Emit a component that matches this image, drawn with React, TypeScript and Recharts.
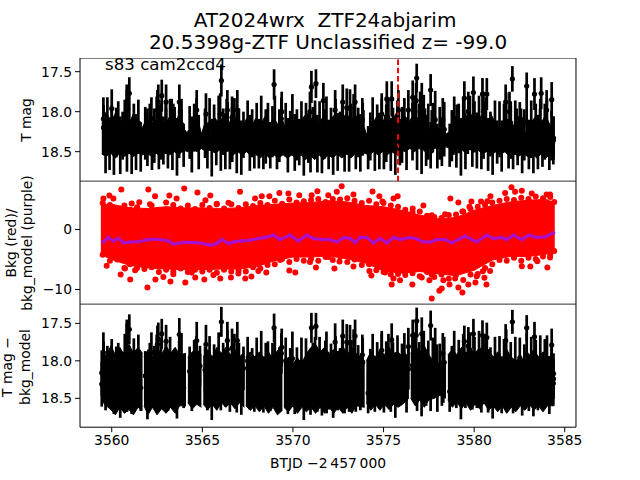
import React from "react";
import { ComposedChart, Area, Line, Scatter, ErrorBar, XAxis, YAxis, ReferenceArea, ReferenceLine } from "recharts";

const FONT = "'DejaVu Sans', sans-serif";
const xDomain = [3558.25, 3585.62];
const xTicks = [3560, 3565, 3570, 3575, 3580, 3585];
const topDomain = [17.329, 18.869];
const midDomain = [-12.45, 8.08];
const bottomDomain = [17.242, 18.885];
const magTicks = [17.5, 18, 18.5];
const midTicks = [-10, 0];
const eventTime = 3575.8;

const barTimes = [
  3559.55,3559.66,3559.76,3559.88,3560.0,3560.12,3560.25,3560.36,3560.47,3560.6,3560.72,3560.84,3560.97,3561.1,3561.22,
  3561.34,3561.47,3561.6,3561.85,3561.97,3562.1,3562.22,3562.35,3562.48,3562.6,3562.72,3562.85,3562.98,3563.1,3563.22,
  3563.35,3563.47,3563.6,3563.72,3563.85,3563.97,3564.3,3564.42,3564.55,3564.68,3564.8,3565.15,3565.28,3565.4,3565.52,
  3565.65,3565.77,3565.9,3566.02,3566.15,3566.27,3566.4,3566.52,3566.65,3566.77,3566.9,3567.02,3567.15,3567.27,3567.5,
  3567.62,3567.75,3567.87,3568.0,3568.12,3568.25,3568.37,3568.5,3568.62,3568.75,3568.87,3569.0,3569.12,3569.25,3569.6,
  3569.72,3569.85,3569.97,3570.1,3570.22,3570.35,3570.47,3570.6,3570.72,3570.85,3570.97,3571.1,3571.22,3571.35,3571.47,
  3571.6,3571.72,3571.85,3571.97,3572.1,3572.22,3572.35,3572.47,3572.6,3572.72,3572.85,3572.97,3573.1,3573.22,3573.35,
  3573.47,3573.6,3573.72,3573.85,3574.15,3574.27,3574.4,3574.52,3574.65,3574.77,3574.9,3575.02,3575.15,3575.27,3575.4,
  3575.52,3575.65,3575.77,3575.9,3576.02,3576.15,3576.27,3576.6,3576.72,3576.85,3576.97,3577.1,3577.22,3577.35,3577.47,
  3577.6,3577.72,3577.85,3577.97,3578.1,3578.22,3578.35,3578.65,3578.77,3578.9,3579.02,3579.15,3579.27,3579.4,3579.52,
  3579.65,3579.77,3579.9,3580.02,3580.15,3580.27,3580.4,3580.52,3580.65,3580.77,3580.9,3581.02,3581.15,3581.27,3581.4,
  3581.52,3581.65,3581.77,3581.9,3582.02,3582.15,3582.27,3582.4,3582.52,3582.65,3582.77,3582.9,3583.02,3583.15,3583.27,
  3583.4,3583.52,3583.65,3583.77,3583.9,3584.02,3584.15,3584.27,3584.37,
];

const barErrors = [
  .28,.34,.3,.33,.27,.35,.31,.29,.36,.3,.32,.34,.28,.33,.3,
  .35,.29,.31,.33,.36,.28,.3,.34,.32,.27,.35,.3,.33,.29,.31,
  .34,.28,.36,.3,.32,.27,.33,.35,.3,.29,.34,.31,.28,.33,.36,
  .3,.27,.34,.32,.29,.35,.31,.28,.33,.3,.36,.27,.34,.29,.32,
  .35,.3,.28,.33,.31,.36,.27,.34,.3,.29,.32,.35,.28,.33,.31,
  .34,.27,.36,.3,.32,.29,.33,.35,.28,.31,.34,.3,.27,.36,.32,
  .33,.29,.35,.31,.28,.34,.3,.36,.27,.33,.32,.29,.35,.3,.34,
  .28,.31,.36,.33,.27,.3,.34,.32,.29,.35,.31,.28,.36,.3,.33,
  .27,.34,.32,.29,.35,.3,.31,.36,.28,.33,.27,.34,.3,.32,.35,
  .29,.31,.36,.28,.33,.3,.34,.27,.32,.35,.29,.31,.36,.3,.33,
  .28,.34,.27,.32,.35,.3,.29,.36,.31,.33,.28,.34,.3,.27,.35,
  .32,.29,.36,.31,.33,.28,.34,.3,.27,.35,.32,.29,.31,.36,.33,
  .28,.34,.3,.27,.35,.32,.29,.31,.3,
];

const topMags = [
  18.2,18.43,18.12,18.4,18.19,18.44,18.26,18.16,18.42,18.3,18.17,18.41,18.24,18.45,18.2,
  18.38,18.14,18.44,18.27,18.32,18.18,18.43,18.3,18.13,18.45,18.25,18.36,18.2,18.42,18.15,
  18.39,18.22,18.44,18.28,18.16,18.42,18.26,18.41,18.2,18.12,18.38,18.27,18.43,18.16,18.45,
  18.21,18.4,18.14,18.42,18.25,18.37,18.19,18.44,18.3,18.13,18.41,18.23,18.45,18.29,18.18,
  18.39,18.27,18.43,18.22,18.4,18.16,18.45,18.31,18.19,18.42,18.25,18.15,18.44,18.3,18.2,
  18.42,18.26,18.14,18.44,18.29,18.38,18.2,18.45,18.17,18.33,18.42,18.24,18.13,18.4,18.19,
  18.44,18.3,18.16,18.41,18.23,18.45,18.14,18.38,18.27,18.18,18.43,18.25,18.4,18.2,18.12,
  18.44,18.26,18.39,18.22,18.45,18.31,18.16,18.42,18.2,18.37,18.15,18.44,18.27,18.13,18.41,
  18.22,18.45,18.18,18.38,18.29,18.13,18.42,18.25,18.11,18.4,18.17,18.44,18.09,18.36,18.25,
  18.42,18.2,18.1,18.43,18.27,18.38,18.22,18.42,18.3,18.16,18.41,18.21,18.44,18.12,18.39,
  18.25,18.14,18.42,18.19,18.36,18.1,18.43,18.23,18.13,18.41,18.28,18.45,18.16,18.38,18.22,
  18.43,18.19,18.12,18.4,18.26,18.44,18.2,18.37,18.15,18.42,18.29,18.13,18.41,18.22,18.44,
  18.18,18.38,18.14,18.42,18.25,18.16,18.44,18.3,18.36,
];

const bottomMags = [
  18.02,18.32,18.1,18.24,17.98,18.36,18.12,18.05,18.4,18.18,17.96,18.34,18.08,18.38,18.0,
  18.28,17.94,18.36,18.2,18.42,18.04,18.3,18.14,17.97,18.4,18.06,18.33,18.1,18.38,17.99,
  18.3,18.12,18.41,18.03,17.95,18.36,18.14,18.32,18.02,17.96,18.25,18.12,18.38,18.0,18.43,
  18.08,18.3,17.96,18.34,18.05,18.26,18.0,18.4,18.12,17.94,18.33,18.03,18.38,18.1,18.0,
  18.3,18.13,18.4,18.02,18.32,17.96,18.42,18.1,18.04,18.38,18.08,17.94,18.4,18.15,18.0,
  18.37,18.1,17.97,18.41,18.14,18.3,18.02,18.44,17.98,18.25,18.38,18.06,17.95,18.32,18.0,
  18.4,18.12,17.96,18.34,18.05,18.42,17.97,18.3,18.1,17.98,18.38,18.07,18.33,18.02,17.92,
  18.4,18.1,18.3,18.02,18.43,18.14,17.98,18.36,18.04,18.28,17.95,18.41,18.1,17.94,18.35,
  18.02,18.42,17.98,18.3,18.12,17.93,18.38,18.06,17.9,18.34,18.02,18.4,17.9,18.28,18.08,
  18.38,18.0,17.92,18.4,18.1,18.3,18.02,18.41,18.12,17.95,18.34,18.03,18.42,17.94,18.3,
  18.06,17.96,18.38,18.0,18.28,17.9,18.4,18.04,17.95,18.36,18.1,18.43,17.98,18.3,18.02,
  18.38,18.0,17.94,18.34,18.08,18.42,18.02,18.3,17.96,18.38,18.1,17.92,18.36,18.04,18.41,
  18.0,18.32,17.96,18.38,18.06,17.98,18.42,18.12,18.3,
];

const topBright = [
  [3559.54,18.09,.27],[3560.83,17.88,.22],[3560.97,17.77,.2],[3560.83,17.96,.24],[3560.0,17.96,.24],[3562.19,18.09,.27],
  [3562.52,17.98,.25],[3562.57,17.88,.22],[3562.76,17.8,.2],[3562.66,18.19,.27],[3563.0,17.88,.22],[3563.0,18.23,.27],
  [3563.31,18.11,.27],[3563.4,18.17,.27],[3563.73,17.88,.22],[3563.84,18.24,.27],[3564.69,17.98,.25],[3565.2,18.03,.26],
  [3566.05,17.61,.2],[3565.98,18.03,.26],[3566.38,17.98,.25],[3566.34,18.11,.27],[3566.64,18.07,.26],[3566.64,18.21,.27],
  [3566.93,17.98,.25],[3568.96,17.66,.19],[3569.38,18.0,.25],[3569.36,18.09,.27],[3571.02,17.69,.2],[3571.27,17.65,.18],
  [3571.68,17.86,.22],[3571.79,18.24,.27],[3570.94,18.0,.25],[3570.1,18.3,.27],[3572.33,17.98,.25],[3572.75,17.88,.22],
  [3572.97,17.95,.24],[3573.15,17.96,.24],[3573.43,17.88,.22],[3573.83,18.1,.27],[3573.89,18.25,.27],[3574.9,18.03,.26],
  [3575.09,18.31,.27],[3575.45,17.84,.22],[3575.18,17.84,.22],[3575.82,17.98,.25],[3575.82,18.23,.27],[3576.37,17.98,.25],
  [3576.61,17.82,.21],[3576.83,17.58,.18],[3576.8,17.86,.22],[3577.11,17.86,.22],[3577.02,18.0,.25],[3577.6,17.73,.2],
  [3577.29,18.23,.27],[3577.66,18.25,.27],[3578.27,18.1,.27],[3578.3,18.23,.27],[3579.04,18.18,.27],[3578.86,18.27,.27],
  [3579.46,17.83,.21],[3579.68,18.0,.25],[3579.96,17.76,.2],[3579.96,18.16,.27],[3580.46,17.78,.2],[3580.7,17.78,.2],
  [3580.51,18.0,.25],[3581.74,17.88,.22],[3581.95,18.0,.25],[3582.02,18.14,.27],[3582.11,17.59,.16],[3582.35,18.23,.27],
  [3582.59,18.23,.27],[3582.9,17.68,.17],[3583.33,17.78,.2],[3583.7,17.77,.2],[3583.64,18.23,.27],[3584.28,17.85,.22],
  [3584.38,18.33,.27],[3584.0,17.98,.25],
];

const bottomBright = [
  [3566.05,17.48,.2],[3560.97,17.58,.2],[3560.83,17.67,.22],[3560.83,17.74,.24],[3559.54,17.89,.27],[3562.76,17.64,.2],
  [3562.57,17.71,.22],[3563.0,17.74,.22],[3563.73,17.65,.22],[3562.19,17.89,.27],[3562.52,17.78,.25],[3564.69,17.73,.25],
  [3565.2,17.78,.26],[3566.38,17.73,.25],[3566.93,17.73,.25],[3566.64,17.83,.26],[3566.38,17.85,.27],[3568.96,17.56,.19],
  [3569.38,17.82,.25],[3569.36,17.9,.27],[3571.02,17.56,.2],[3571.27,17.54,.18],[3571.79,18.0,.27],[3564.87,18.07,.27],
  [3559.45,18.16,.3],[3559.45,18.31,.3],[3564.78,18.27,.27],[3571.86,18.43,.27],[3576.83,17.47,.18],[3577.6,17.53,.2],
  [3582.11,17.48,.16],[3582.9,17.56,.17],[3583.33,17.68,.2],[3584.28,17.79,.22],[3584.38,18.17,.27],[3584.38,18.24,.27],
  [3572.75,17.67,.22],[3573.43,17.67,.22],[3572.33,17.75,.25],[3572.97,17.75,.24],[3573.15,17.76,.24],[3573.83,17.92,.27],
  [3574.9,17.86,.26],[3575.45,17.72,.22],[3576.61,17.66,.21],[3577.11,17.64,.22],[3576.8,17.66,.22],[3576.37,17.81,.25],
  [3576.37,18.11,.27],[3577.94,18.05,.27],[3578.12,18.14,.27],[3578.27,17.9,.27],[3578.3,18.05,.27],[3578.3,18.29,.27],
  [3579.46,17.74,.21],[3579.68,17.8,.25],[3579.96,17.64,.2],[3580.46,17.66,.2],[3580.7,17.69,.2],[3581.74,17.73,.22],
];

const topBandRows = [
  [3559.45,18.1,18.53],[3559.7,18.0,18.56],[3559.95,18.14,18.52],[3560.2,18.02,18.58],[3560.45,18.16,18.52],[3560.7,18.06,18.56],
  [3560.95,18.16,18.52],[3561.2,18.02,18.56],[3561.45,18.1,18.52],[3561.7,18.2,18.54],[3561.95,18.06,18.52],[3562.2,18.26,18.56],
  [3562.45,18.12,18.52],[3562.7,18.04,18.56],[3562.95,18.16,18.5],[3563.2,18.06,18.54],[3563.45,18.18,18.5],[3563.7,18.04,18.54],
  [3563.95,18.2,18.48],[3564.2,18.28,18.5],[3564.45,18.3,18.46],[3564.7,18.04,18.5],[3564.95,18.28,18.46],[3565.2,18.1,18.5],
  [3565.45,18.3,18.46],[3565.7,18.08,18.52],[3565.95,18.16,18.48],[3566.2,18.02,18.52],[3566.45,18.16,18.48],[3566.7,18.04,18.54],
  [3566.95,18.14,18.5],[3567.2,18.2,18.54],[3567.45,18.08,18.5],[3567.7,18.2,18.56],[3567.95,18.08,18.52],[3568.2,18.18,18.58],
  [3568.45,18.06,18.52],[3568.7,18.16,18.58],[3568.95,18.08,18.54],[3569.2,18.18,18.58],[3569.45,18.12,18.54],[3569.7,18.3,18.58],
  [3569.95,18.14,18.54],[3570.2,18.24,18.6],[3570.45,18.1,18.54],[3570.7,18.04,18.6],[3570.95,18.14,18.54],[3571.2,18.06,18.6],
  [3571.45,18.16,18.54],[3571.7,18.04,18.6],[3571.95,18.14,18.54],[3572.2,18.06,18.58],[3572.45,18.02,18.53],[3572.7,18.1,18.58],
  [3572.95,18.02,18.52],[3573.2,18.12,18.58],[3573.45,18.04,18.52],[3573.7,18.14,18.56],[3573.95,18.26,18.52],[3574.2,18.28,18.54],
  [3574.45,18.14,18.5],[3574.7,18.02,18.54],[3574.95,18.14,18.5],[3575.2,18.0,18.54],[3575.45,18.12,18.5],[3575.7,18.02,18.54],
  [3575.95,18.16,18.48],[3576.2,18.06,18.5],[3576.45,18.12,18.46],[3576.7,18.0,18.5],[3576.95,18.14,18.46],[3577.2,18.04,18.48],
  [3577.45,18.2,18.44],[3577.7,18.26,18.48],[3577.95,18.28,18.44],[3578.2,18.12,18.46],[3578.45,18.28,18.44],[3578.7,18.24,18.46],
  [3578.95,18.06,18.46],[3579.2,18.18,18.45],[3579.45,18.0,18.5],[3579.7,18.12,18.46],[3579.95,18.0,18.5],[3580.2,18.14,18.48],
  [3580.45,18.02,18.52],[3580.7,18.12,18.5],[3580.95,18.04,18.54],[3581.2,18.16,18.5],[3581.45,18.24,18.54],[3581.7,18.06,18.5],
  [3581.95,18.16,18.56],[3582.2,18.24,18.52],[3582.45,18.06,18.56],[3582.7,18.22,18.52],[3582.95,18.3,18.56],[3583.2,18.12,18.52],
  [3583.45,18.04,18.58],[3583.7,18.14,18.53],[3583.95,18.04,18.58],[3584.2,18.18,18.53],[3584.45,18.4,18.52],
];

const bottomBandRows = [
  [3559.5,17.85,18.55],[3559.7,17.95,18.6],[3559.95,17.8,18.65],[3560.2,17.92,18.72],[3560.45,17.82,18.62],[3560.7,17.93,18.7],
  [3560.95,17.78,18.65],[3561.2,17.9,18.72],[3561.45,17.82,18.62],[3561.7,17.9,18.66],[3561.71,null,null],[3561.78,17.95,18.6],
  [3562.0,17.85,18.72],[3562.25,17.95,18.62],[3562.5,17.82,18.72],[3562.75,17.92,18.64],[3563.0,17.8,18.7],[3563.25,17.9,18.62],
  [3563.5,17.82,18.7],[3563.75,17.92,18.6],[3564.1,17.9,18.6],[3564.11,null,null],[3564.2,17.95,18.56],[3564.45,17.88,18.64],
  [3564.7,17.85,18.58],[3564.95,17.92,18.62],[3564.96,null,null],[3565.05,17.95,18.58],[3565.3,17.85,18.65],[3565.55,17.95,18.58],
  [3565.8,17.82,18.66],[3566.05,17.9,18.56],[3566.3,17.82,18.62],[3566.55,17.92,18.56],[3566.8,17.85,18.64],[3567.05,17.95,18.56],
  [3567.32,17.88,18.62],[3567.33,null,null],[3567.4,17.95,18.6],[3567.65,17.88,18.66],[3567.9,17.95,18.6],[3568.15,17.88,18.68],
  [3568.4,17.96,18.6],[3568.65,17.88,18.7],[3568.9,17.98,18.62],[3569.15,17.86,18.72],[3569.42,17.95,18.66],[3569.43,null,null],
  [3569.5,18.02,18.62],[3569.75,17.95,18.68],[3570.0,18.04,18.6],[3570.25,17.96,18.7],[3570.5,18.04,18.62],[3570.75,17.9,18.68],
  [3571.0,17.82,18.62],[3571.25,17.78,18.7],[3571.5,17.88,18.62],[3571.75,17.82,18.7],[3572.0,17.9,18.62],[3572.25,17.85,18.7],
  [3572.5,17.88,18.62],[3572.75,17.8,18.7],[3573.0,17.92,18.62],[3573.25,17.82,18.7],[3573.5,17.9,18.6],[3573.96,18.0,18.62],
  [3573.97,null,null],[3574.05,18.0,18.56],[3574.3,17.88,18.66],[3574.55,17.95,18.58],[3574.8,17.85,18.66],[3575.05,17.92,18.58],
  [3575.3,17.82,18.65],[3575.55,17.9,18.58],[3575.8,17.88,18.62],[3576.05,17.95,18.58],[3576.4,17.92,18.5],[3576.41,null,null],
  [3576.5,17.9,18.5],[3576.75,17.8,18.6],[3577.0,17.88,18.52],[3577.25,17.8,18.62],[3577.5,17.92,18.52],[3577.8,18.02,18.5],
  [3578.1,18.08,18.46],[3578.45,18.05,18.5],[3578.46,null,null],[3578.55,17.92,18.52],[3578.8,17.85,18.62],[3579.05,17.92,18.55],
  [3579.3,17.82,18.64],[3579.55,17.9,18.56],[3579.8,17.82,18.66],[3580.05,17.9,18.58],[3580.3,17.82,18.64],[3580.55,17.88,18.56],
  [3580.8,17.85,18.66],[3581.05,17.95,18.6],[3581.3,17.88,18.68],[3581.55,17.96,18.6],[3581.8,17.85,18.7],[3582.05,17.95,18.62],
  [3582.3,18.0,18.68],[3582.55,17.95,18.6],[3582.8,18.0,18.66],[3583.05,17.92,18.58],[3583.3,17.85,18.66],[3583.55,17.95,18.6],
  [3583.8,17.88,18.68],[3584.05,17.95,18.6],[3584.38,17.92,18.6],
];

const bkgBandRows = [
  [3559.4,-4.2,4.2],[3560,-5,4.2],[3561,-6,3.6],[3562,-6.4,3.5],[3563,-6.6,3.8],[3564,-6.7,3.6],[3565,-6.7,3.6],
  [3566,-6.6,3.5],[3567,-6.6,3.6],[3568,-6.2,4.0],[3569,-5.2,4.2],[3570,-4.6,4.4],[3571,-4.6,4.5],[3572,-4.4,4.8],[3573,-4.9,4.6],
  [3574,-5.6,4.0],[3575,-6.9,3.8],[3576,-7.3,3.2],[3577,-7,2.4],[3578,-7.4,1.8],[3579,-7.7,2.0],[3580,-6.8,3.2],
  [3581,-5.1,4.0],[3582,-4.5,4.6],[3583,-4.5,4.9],[3584,-4.1,5.0],[3584.45,-3.5,4.4],
];

const bkgOutliers = [
  [3560.53,6.66],[3562.02,6.66],[3564.0,6.83],[3564.73,6.16],[3565.44,5.66],[3559.54,5.16],[3559.87,5.66],[3560.09,5.16],
  [3562.39,5.55],[3563.18,5.66],[3563.58,5.16],[3565.17,4.88],[3567.08,6.27],[3566.44,4.44],[3567.91,5.16],[3568.28,5.55],
  [3568.7,5.55],[3569.25,6.1],[3569.75,6.0],[3570.35,5.72],[3571.35,6.38],[3571.03,5.72],[3571.95,5.72],[3561.1,4.33],
  [3561.52,4.55],[3562.11,4.2],[3565.79,4.2],[3572.69,7.22],[3574.39,6.33],[3574.77,5.55],[3574.94,4.66],[3575.55,5.16],
  [3575.78,5.55],[3573.34,5.83],[3572.42,6.27],[3577.2,4.0],[3576.61,3.5],[3577.66,2.38],[3578.4,2.55],[3578.69,5.16],
  [3579.13,4.5],[3579.35,3.0],[3579.85,4.66],[3579.74,3.77],[3579.9,2.5],[3580.38,4.66],[3580.73,4.72],[3580.9,5.55],
  [3581.71,6.1],[3582.06,7.05],[3582.26,6.27],[3582.63,6.44],[3583.18,6.0],[3584.0,5.83],[3584.19,5.83],
  [3561.02,-8.34],[3561.97,-9.67],[3560.49,-7.5],[3562.41,-8.34],[3562.85,-7.9],[3563.24,-8.67],[3564.06,-8.84],[3564.61,-8.0],
  [3565.11,-8.34],[3565.99,-8.17],[3566.58,-8.0],[3567.37,-8.17],[3567.71,-7.84],[3568.53,-7.17],[3569.8,-6.84],[3570.13,-7.17],
  [3571.27,-6.34],[3559.72,-6.06],[3561.29,-6.78],[3560.73,-6.5],[3563.4,-7.45],[3564.41,-7.17],[3565.61,-7.6],[3566.99,-7.34],
  [3568.09,-6.9],[3569.29,-5.1],[3570.94,-5.4],[3571.95,-4.6],[3572.29,-6.5],[3572.57,-5.34],[3573.34,-6.17],[3574.33,-7.67],
  [3574.22,-6.9],[3575.09,-7.17],[3575.45,-9.17],[3575.55,-8.17],[3575.91,-8.45],[3576.59,-9.17],[3577.11,-8.0],[3577.53,-8.45],
  [3577.66,-7.5],[3577.66,-11.5],[3578.08,-10.23],[3578.21,-9.84],[3578.64,-9.17],[3579.13,-9.67],[3579.35,-10.5],[3579.68,-9.17],
  [3580.07,-8.84],[3580.57,-8.06],[3580.68,-9.17],[3580.48,-6.95],[3580.88,-6.9],[3582.63,-6.12],[3583.1,-6.17],[3584.04,-6.34],
  [3583.49,-5.3],[3584.19,-4.67],[3578.3,-8.45],[3578.95,-8.17],[3580.14,-7.78],
];

const bkgUpperEdge = [
  [3559.5,4.4],[3559.9,4.1],[3560.3,3.4],[3560.7,4.0],[3561.0,3.3],[3561.4,3.7],[3561.8,3.1],[3562.2,4.0],[3562.6,3.2],[3563.0,4.5],
  [3563.4,4.1],[3563.8,3.5],[3564.2,4.0],[3564.6,3.4],[3565.0,4.1],[3565.4,3.6],[3565.8,4.3],[3566.2,3.5],[3566.6,4.2],[3567.0,3.6],
  [3567.4,4.2],[3567.8,3.9],[3568.2,4.4],[3568.6,4.1],[3569.0,4.8],[3569.4,4.3],[3569.8,5.0],[3570.2,4.5],[3570.6,4.7],[3571.0,4.9],
  [3571.4,5.1],[3571.8,4.6],[3572.2,5.1],[3572.6,5.0],[3573.0,5.2],[3573.4,4.8],[3573.8,4.4],[3574.2,4.8],[3574.6,4.2],[3575.0,4.4],
  [3575.4,4.0],[3575.8,3.8],[3576.2,3.3],[3576.6,2.9],[3577.0,3.0],[3577.4,2.3],[3577.8,2.1],[3578.2,1.9],[3578.6,2.4],[3579.0,2.5],
  [3579.4,3.0],[3579.8,3.4],[3580.2,3.8],[3580.6,4.1],[3581.0,4.5],[3581.4,4.8],[3581.8,5.1],[3582.2,4.9],[3582.6,5.3],[3583.0,5.1],
  [3583.4,5.5],[3583.8,5.2],[3584.2,5.4],[3584.42,4.6],
];

const bkgLowerEdge = [
  [3559.5,-4.2],[3559.9,-5.2],[3560.3,-5.0],[3560.7,-6.4],[3561.0,-5.8],[3561.4,-6.4],[3561.8,-6.6],[3562.2,-6.3],[3562.6,-7.1],[3563.0,-6.7],
  [3563.4,-7.0],[3563.8,-6.5],[3564.2,-7.1],[3564.6,-6.7],[3565.0,-7.0],[3565.4,-6.7],[3565.8,-7.2],[3566.2,-6.7],[3566.6,-7.0],[3567.0,-6.8],
  [3567.4,-7.0],[3567.8,-6.3],[3568.2,-6.5],[3568.6,-5.9],[3569.0,-5.8],[3569.4,-4.9],[3569.8,-5.4],[3570.2,-4.9],[3570.6,-5.2],[3571.0,-4.9],
  [3571.4,-5.2],[3571.8,-4.6],[3572.2,-5.1],[3572.6,-4.5],[3573.0,-5.4],[3573.4,-5.0],[3573.8,-5.9],[3574.2,-5.8],[3574.6,-6.8],[3575.0,-7.1],
  [3575.4,-7.5],[3575.8,-7.4],[3576.2,-7.6],[3576.6,-7.3],[3577.0,-7.8],[3577.4,-7.1],[3577.8,-7.9],[3578.2,-7.5],[3578.6,-8.2],[3579.0,-7.6],
  [3579.4,-8.4],[3579.8,-7.5],[3580.2,-7.4],[3580.6,-6.4],[3581.0,-5.8],[3581.4,-5.1],[3581.8,-5.2],[3582.2,-4.7],[3582.6,-5.2],[3583.0,-4.7],
  [3583.4,-4.9],[3583.8,-4.5],[3584.2,-4.2],[3584.42,-3.6],
];

const bkgModel = [
  [3559.54,-2.06],[3559.81,-1.34],[3560.09,-1.9],[3560.37,-1.5],[3560.64,-2.2],[3561.01,-2.1],[3561.47,-2.06],[3561.84,-1.78],
  [3562.2,-1.62],[3562.66,-1.67],[3563.12,-1.9],[3563.4,-2.45],[3563.77,-2.23],[3564.14,-2.12],[3564.6,-2.17],[3565.06,-2.34],
  [3565.42,-2.62],[3565.79,-2.34],[3566.07,-1.67],[3566.44,-2.34],[3566.8,-2.0],[3567.17,-1.9],[3567.63,-1.78],[3568.0,-1.56],
  [3568.46,-1.34],[3568.92,-0.95],[3569.29,-1.67],[3569.84,-0.95],[3570.3,-1.9],[3570.76,-0.95],[3571.13,-1.5],[3571.59,-1.67],
  [3572.01,-1.67],[3572.42,-2.06],[3572.82,-1.34],[3573.15,-1.5],[3573.43,-2.17],[3573.71,-1.34],[3574.07,-1.34],[3574.44,-2.23],
  [3574.81,-1.5],[3575.18,-2.23],[3575.55,-1.34],[3575.91,-1.67],[3576.46,-1.34],[3576.83,-1.56],[3577.2,-2.06],[3577.57,-2.12],
  [3577.94,-1.67],[3578.4,-1.67],[3578.76,-2.23],[3579.13,-1.67],[3579.5,-1.12],[3579.87,-1.67],[3580.14,-2.06],[3580.7,-0.95],
  [3581.06,-1.5],[3581.52,-1.34],[3581.8,-1.67],[3582.17,-0.95],[3582.63,-1.67],[3583.0,-0.95],[3583.46,-1.34],[3583.92,-1.23],
  [3584.38,-0.56],
];

const withBand = (rows: any[]) => rows.map((r) => ({ x: r[0], band: r[1] === null ? null : [r[1], r[2]] }));
const topPoints = [
  ...barTimes.map((x, i) => ({ x, y: topMags[i], err: barErrors[i] })),
  ...topBright.map((r) => ({ x: r[0], y: r[1], err: r[2] })),
];
const bottomPoints = [
  ...barTimes.map((x, i) => ({ x, y: bottomMags[i], err: barErrors[i] })),
  ...bottomBright.map((r) => ({ x: r[0], y: r[1], err: r[2] })),
];
const bkgPoints = [...bkgOutliers, ...bkgUpperEdge, ...bkgLowerEdge].map((r) => ({ x: r[0], y: r[1] }));
const modelPoints = bkgModel.map((r) => ({ x: r[0], v: r[1] }));

const Dot = (r: number, fill: string) => (p: any) => <circle cx={p.cx} cy={p.cy} r={r} fill={fill} />;
const tickStyle = { fontFamily: FONT, fontSize: 13.89, fill: "#000" };
const minus = (v: number) => String(v).replace("-", "\u2212");
const PLOT_H = 123.2;
const PURPLE = "#aa10cc";

const common = {
  width: 640,
  margin: { top: 0, right: 64, bottom: 0, left: 0 },
};

function axisY(domain: number[], ticks: number[], reversed: boolean, fmt: (v: number) => string) {
  return (
    <YAxis
      type="number"
      width={80}
      domain={domain}
      ticks={ticks}
      reversed={reversed}
      allowDataOverflow
      interval={0}
      tick={tickStyle}
      tickLine={{ stroke: "#000" }}
      tickSize={5}
      tickMargin={3}
      tickFormatter={fmt}
      axisLine={false}
    />
  );
}

function border(yd: number[]) {
  return <ReferenceArea x1={xDomain[0]} x2={xDomain[1]} y1={yd[0]} y2={yd[1]} fill="none" stroke="#000" strokeWidth={1} ifOverflow="visible" />;
}

function PhotometryPanel({ points, band, domain, height, showX, event }: any) {
  return (
    <ComposedChart {...common} height={height} data={withBand(band)}>
      <XAxis
        type="number"
        dataKey="x"
        domain={xDomain}
        ticks={xTicks}
        allowDataOverflow
        interval={0}
        hide={!showX}
        height={height - PLOT_H}
        tick={tickStyle}
        tickLine={{ stroke: "#000" }}
        tickSize={5}
        tickMargin={3}
        axisLine={false}
      />
      {axisY(domain, magTicks, true, (v) => v.toFixed(1))}
      <Area dataKey="band" stroke="#000" strokeWidth={1} fill="#000" fillOpacity={1} dot={false} isAnimationActive={false} />
      <Scatter data={points} dataKey="y" shape={Dot(2.6, "#000")} isAnimationActive={false}>
        <ErrorBar dataKey="err" direction="y" width={0} stroke="#000" strokeWidth={2.7} isAnimationActive={false} />
      </Scatter>
      {event ? <ReferenceLine x={eventTime} stroke="#ff0000" strokeWidth={2} strokeDasharray="5.5 2.8" /> : null}
      {border(domain)}
    </ComposedChart>
  );
}

function BackgroundPanel() {
  return (
    <ComposedChart {...common} height={PLOT_H} data={withBand(bkgBandRows)}>
      <XAxis type="number" dataKey="x" domain={xDomain} allowDataOverflow hide />
      {axisY(midDomain, midTicks, false, minus)}
      <Area dataKey="band" stroke="#ff0000" strokeWidth={1} fill="#ff0000" fillOpacity={1} dot={false} isAnimationActive={false} />
      <Scatter data={bkgPoints} dataKey="y" shape={Dot(3, "#ff0000")} isAnimationActive={false} />
      <Line data={modelPoints} dataKey="v" stroke={PURPLE} strokeWidth={3} dot={{ r: 1.9, fill: PURPLE, stroke: "none" }} isAnimationActive={false} />
      {border(midDomain)}
    </ComposedChart>
  );
}

const labelStyle: any = { fontFamily: FONT, fill: "#000", whiteSpace: "pre" };

export default function App() {
  const place = (top: number): any => ({ position: "absolute", left: 0, top, width: 640 });
  return (
    <div style={{ position: "absolute", left: 0, top: 0, width: 640, height: 480, background: "#fff", overflow: "hidden" }}>
      <div style={place(57.6)}>
        <PhotometryPanel points={topPoints} band={topBandRows} domain={topDomain} height={PLOT_H} showX={false} event />
      </div>
      <div style={place(180.8)}>
        <BackgroundPanel />
      </div>
      <div style={place(304)}>
        <PhotometryPanel points={bottomPoints} band={bottomBandRows} domain={bottomDomain} height={PLOT_H + 40} showX event={false} />
      </div>
      <svg width={640} height={480} style={{ position: "absolute", left: 0, top: 0, pointerEvents: "none" }}>
        <text x={325} y={27} textAnchor="middle" fontSize={20} style={labelStyle}>AT2024wrx  ZTF24abjarim</text>
        <text x={328} y={49} textAnchor="middle" fontSize={20} style={labelStyle}>20.5398g-ZTF Unclassified z= -99.0</text>
        <text x={105} y={70} fontSize={16.67} style={labelStyle}>s83 cam2ccd4</text>
        <text x={328} y={468} textAnchor="middle" fontSize={13.89} style={labelStyle}>BTJD {"\u22122\u2009457\u2009000"}</text>
        <text transform="translate(31 120) rotate(-90)" textAnchor="middle" fontSize={13.89} style={labelStyle}>T mag</text>
        <text transform="translate(16 243) rotate(-90)" textAnchor="middle" fontSize={13.89} style={labelStyle}>Bkg (red)/</text>
        <text transform="translate(32 243) rotate(-90)" textAnchor="middle" fontSize={13.89} style={labelStyle}>bkg_model (purple)</text>
        <text transform="translate(12 367) rotate(-90)" textAnchor="middle" fontSize={13.89} style={labelStyle}>T mag {"\u2212"}</text>
        <text transform="translate(30 367) rotate(-90)" textAnchor="middle" fontSize={13.89} style={labelStyle}>bkg_model</text>
      </svg>
    </div>
  );
}
